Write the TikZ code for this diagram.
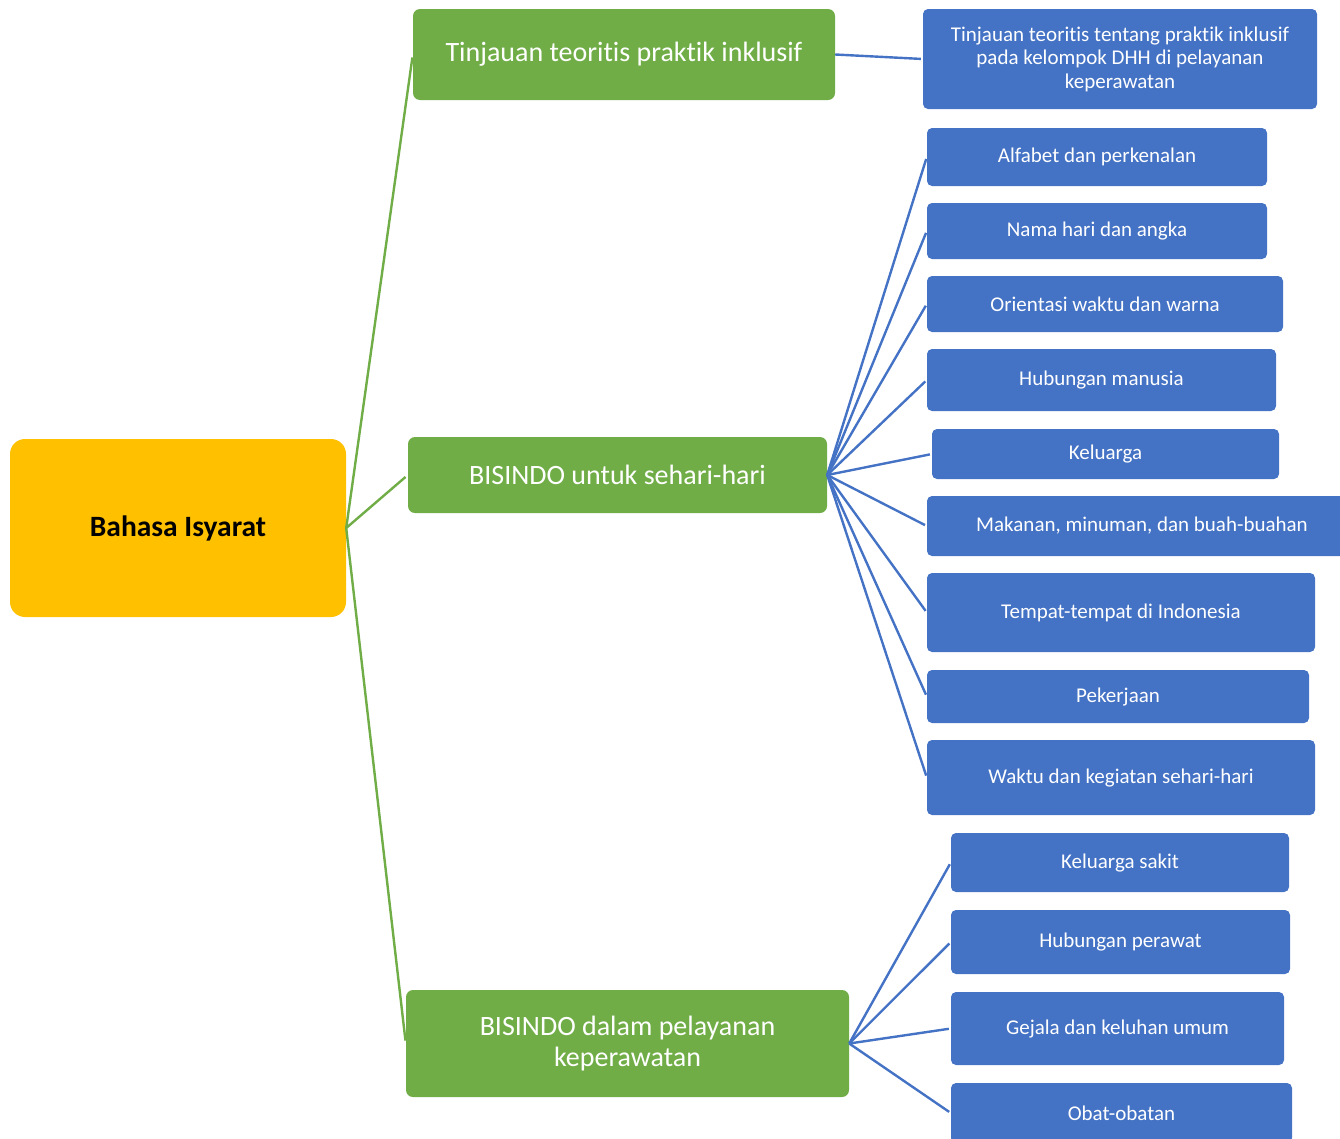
\documentclass[tikz,border=0pt]{standalone}
\usepackage{fontspec}
\setmainfont{Carlito}[RawFeature={-liga;-dlig}]
\definecolor{cgreen}{HTML}{70AD47}
\definecolor{cblue}{HTML}{4472C4}
\definecolor{cyellow}{HTML}{FFC000}
\begin{document}
\begin{tikzpicture}[x=1pt,y=-1pt,
  rootbox/.style={fill=cyellow, rounded corners=15pt, inner sep=0pt, font=\fontsize{29.5}{34}\selectfont\bfseries, text=black, align=center},
  greenbox/.style={fill=cgreen, rounded corners=7pt, inner sep=0pt, font=\fontsize{28}{31}\selectfont, text=white, align=center},
  bluebox/.style={fill=cblue, rounded corners=5pt, inner sep=0pt, font=\fontsize{21}{23.5}\selectfont, text=white, align=center},
  gline/.style={draw=cgreen, line width=2.4pt, shorten >=3pt},
  bline/.style={draw=cblue, line width=2.4pt, shorten >=2pt}]
\useasboundingbox (0,0) rectangle (1340,1138);
% root
\node[rootbox, minimum width=336, minimum height=178] (root) at (178,528) {Bahasa Isyarat};
% green level
\node[greenbox, minimum width=422, minimum height=91] (g1) at (624,54.5) {Tinjauan teoritis praktik inklusif};
\node[greenbox, minimum width=419, minimum height=76] (g2) at (617.5,475) {BISINDO untuk sehari-hari};
\node[greenbox, minimum width=443, minimum height=107] (g3) at (627.5,1043.5) {BISINDO dalam pelayanan\\keperawatan};
% blue level
\node[bluebox, minimum width=394, minimum height=100] (b0) at (1120,59) {Tinjauan teoritis tentang praktik inklusif\\pada kelompok DHH di pelayanan\\keperawatan};
\node[bluebox, minimum width=340, minimum height=58] (b1) at (1097,157) {Alfabet dan perkenalan};
\node[bluebox, minimum width=340, minimum height=56] (b2) at (1097,231) {Nama hari dan angka};
\node[bluebox, minimum width=356, minimum height=56] (b3) at (1105,304) {Orientasi waktu dan warna};
\node[bluebox, minimum width=349, minimum height=62] (b4) at (1101.5,380) {Hubungan manusia};
\node[bluebox, minimum width=347, minimum height=50] (b5) at (1105.5,454) {Keluarga};
\node[bluebox, minimum width=430, minimum height=60] (b6) at (1142,526) {Makanan, minuman, dan buah-buahan};
\node[bluebox, minimum width=388, minimum height=79] (b7) at (1121,612.5) {Tempat-tempat di Indonesia};
\node[bluebox, minimum width=382, minimum height=53] (b8) at (1118,696.5) {Pekerjaan};
\node[bluebox, minimum width=388, minimum height=75] (b9) at (1121,777.5) {Waktu dan kegiatan sehari-hari};
\node[bluebox, minimum width=338, minimum height=59] (c1) at (1120,862.5) {Keluarga sakit};
\node[bluebox, minimum width=339, minimum height=64] (c2) at (1120.5,942) {Hubungan perawat};
\node[bluebox, minimum width=333, minimum height=73] (c3) at (1117.5,1028.5) {Gejala dan keluhan umum};
\node[bluebox, minimum width=341, minimum height=60] (c4) at (1121.5,1113) {Obat-obatan};
% connectors
\draw[gline] (root.east) -- (g1.west);
\draw[gline] (root.east) -- (g2.west);
\draw[gline] (root.east) -- (g3.west);
\draw[bline] (g1.east) -- (b0.west);
\foreach \n in {b1,b2,b3,b4,b5,b6,b7,b8,b9}{\draw[bline] (g2.east) -- (\n.west);}
\foreach \n in {c1,c2,c3,c4}{\draw[bline] (g3.east) -- (\n.west);}
\end{tikzpicture}
\end{document}
